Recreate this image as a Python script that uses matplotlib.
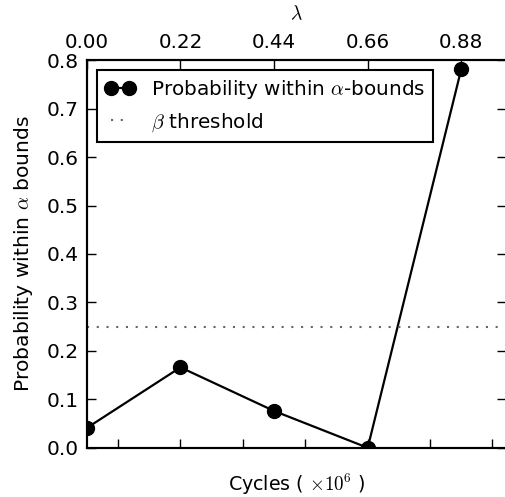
import numpy as np
import matplotlib
matplotlib.use("Agg")
import matplotlib.pyplot as plt

plt.rcParams['mathtext.fontset'] = 'cm'
plt.rcParams['font.family'] = 'DejaVu Sans'
plt.rcParams['font.size'] = 14

# Datos
lam = [0.00, 0.22, 0.44, 0.66, 0.88]
prob = [0.041, 0.166, 0.076, 0.0, 0.782]
beta_threshold = 0.25
lam_ticks = [0.00, 0.22, 0.44, 0.66, 0.88]
lam_labels = ['0.00', '0.22', '0.44', '0.66', '0.88']
y_ticks = [0.0, 0.1, 0.2, 0.3, 0.4, 0.5, 0.6, 0.7, 0.8]

fig = plt.figure(figsize=(5.05, 4.97), dpi=100)
ax = fig.add_axes([0.172, 0.099, 0.83, 0.780])

ax.plot(lam, prob, 'k-', marker='o', markersize=10, linewidth=1.6,
        label=r'Probability within $\alpha$-bounds')
ax.axhline(beta_threshold, color='0.4', linewidth=1.5, linestyle=(0, (1, 3.67)),
           label=r'$\beta$ threshold')

ax.set_xlim(0, 0.985)
ax.set_ylim(0, 0.8)
ax.set_yticks(y_ticks)
ax.set_yticklabels(['%.1f' % v for v in y_ticks])

# ticks inferiores sin etiquetas
bottom_ticks = 0.0733 + 0.1466 * np.arange(7)
ax.set_xticks(bottom_ticks)
ax.set_xticklabels([])
ax.tick_params(direction='in', length=6.5, width=1, right=True, top=False)
ax.tick_params(axis='y', labelsize=14.5, pad=6)
ax.set_xlabel(r'Cycles ( $\times 10^6$ )', labelpad=14, fontsize=13.7)
ax.set_ylabel(r'Probability within $\alpha$ bounds', labelpad=8, fontsize=14.6)

for s in ax.spines.values():
    s.set_linewidth(1.5)

# eje superior lambda
ax2 = ax.twiny()
ax2.set_xlim(ax.get_xlim())
ax2.set_xticks(lam_ticks)
ax2.set_xticklabels(lam_labels)
ax2.tick_params(direction='in', length=6.5, width=1, bottom=False, top=True,
                pad=5.5, labelsize=14.3)
ax2.set_xlabel(r'$\lambda$', labelpad=10)
for s in ax2.spines.values():
    s.set_linewidth(1.5)

leg = ax.legend(loc='upper left', numpoints=2, handlelength=1.5, fancybox=False,
                edgecolor='k', framealpha=1, borderaxespad=0.5, fontsize=14.4)
leg.get_frame().set_linewidth(1.5)

fig.savefig('out.png', dpi=100)
